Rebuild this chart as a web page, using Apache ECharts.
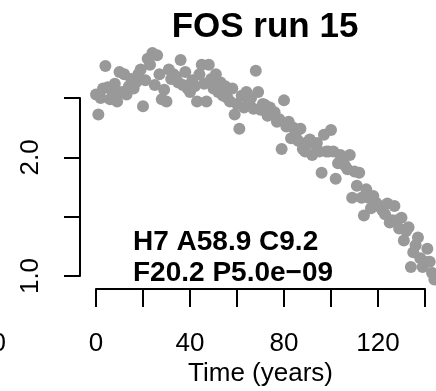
<!DOCTYPE html>
<html>
<head>
<meta charset="utf-8">
<script src="https://cdn.jsdelivr.net/npm/echarts@6/dist/echarts.min.js"></script>
<style>
html,body{margin:0;padding:0;background:#fff;}
#chart{width:436px;height:391px;}
</style>
</head>
<body>
<div id="chart"></div>
<script>
// Data (one point per year)
var values = [
  2.53, 2.36, 2.50, 2.58, 2.77, 2.59, 2.49, 2.55, 2.62, 2.47,
  2.72, 2.55, 2.70, 2.53, 2.60, 2.66, 2.58, 2.63, 2.70, 2.74,
  2.43, 2.65, 2.83, 2.78, 2.88, 2.61, 2.86, 2.70, 2.49, 2.57,
  2.47, 2.74, 2.66, 2.70, 2.68, 2.63, 2.82, 2.61, 2.72, 2.58,
  2.55, 2.65, 2.60, 2.47, 2.70, 2.78, 2.62, 2.47, 2.78, 2.66,
  2.58, 2.70, 2.55, 2.63, 2.52, 2.60, 2.50, 2.47, 2.58, 2.36,
  2.45, 2.24, 2.52, 2.42, 2.55, 2.46, 2.50, 2.41, 2.73, 2.55,
  2.40, 2.45, 2.44, 2.35, 2.42, 2.36, 2.38, 2.30, 2.32, 2.07,
  2.48, 2.26, 2.30, 2.16, 2.25, 2.20, 2.14, 2.24, 2.07, 2.05,
  2.13, 2.15, 2.02, 2.11, 2.12, 2.05, 1.87, 2.19, 2.05, 2.05,
  2.23, 2.05, 1.82, 1.95, 2.02, 1.98, 1.93, 1.90, 2.02, 1.66,
  1.88, 1.76, 1.87, 1.66, 1.51, 1.73, 1.66, 1.57, 1.675, 1.62,
  1.60, 1.58, 1.55, 1.52, 1.61, 1.45, 1.47, 1.59, 1.47, 1.40,
  1.49, 1.30, 1.38, 1.41, 1.075, 1.20, 1.26, 1.325, 1.15, 1.075,
  1.12, 1.23, 1.12, 1.025, 0.97
];
var xTicks = [0, 40, 80, 120];
var yTicks = [1.0, 2.0];
var titleText = 'FOS run 15';
var annotLines = ['H7 A58.9 C9.2', 'F20.2 P5.0e\u221209'];
var xName = 'Time (years)';

var pts = values.map(function (v, i) { return [i, v]; });
var FONT = '"Liberation Sans", Arial, Helvetica, sans-serif';

var chart = echarts.init(document.getElementById('chart'), null, {renderer: 'canvas'});
chart.setOption({
  animation: false,
  backgroundColor: '#ffffff',
  grid: {left: 96, right: 11, top: 98, bottom: 115, containLabel: false},
  xAxis: {
    type: 'value', min: 0, max: 140, interval: 20, offset: 13,
    axisLine: {show: true, onZero: false, lineStyle: {color: '#000', width: 2}},
    axisTick: {show: true, length: 18, inside: false, lineStyle: {color: '#000', width: 2}},
    splitLine: {show: false},
    axisLabel: {
      show: true, margin: 42, fontSize: 26, color: '#000', fontFamily: FONT,
      showMinLabel: true, showMaxLabel: true,
      formatter: function (v) { return xTicks.indexOf(v) >= 0 ? String(v) : ''; }
    },
    name: xName, nameLocation: 'middle', nameGap: 72,
    nameTextStyle: {fontSize: 26, color: '#000', fontFamily: FONT}
  },
  yAxis: {
    type: 'value', min: 1.0, max: 2.5, interval: 0.5, offset: 16,
    axisLine: {show: true, onZero: false, lineStyle: {color: '#000', width: 2}},
    axisTick: {show: true, length: 16, inside: false, lineStyle: {color: '#000', width: 2}},
    splitLine: {show: false},
    axisLabel: {
      show: true, rotate: 90, margin: 36, fontSize: 26, color: '#000', fontFamily: FONT,
      align: 'center', verticalAlign: 'bottom',
      formatter: function (v) {
        for (var i = 0; i < yTicks.length; i++) { if (Math.abs(yTicks[i] - v) < 1e-9) return yTicks[i].toFixed(1); }
        return '';
      }
    }
  },
  series: [{
    type: 'scatter', data: pts, symbol: 'circle', symbolSize: 12, clip: false,
    itemStyle: {color: '#999999', opacity: 1}, silent: true
  }],
  graphic: [
    {type: 'text', x: 265, y: 10, style: {text: titleText, fontSize: 35, fontWeight: 'bold', fill: '#000', fontFamily: FONT, align: 'center', verticalAlign: 'top'}, z: 10},
    {type: 'text', x: 133, y: 256, style: {text: annotLines[0], fontSize: 28, fontWeight: 'bold', fill: '#000', fontFamily: FONT, verticalAlign: 'bottom'}, z: 10},
    {type: 'text', x: 133, y: 287, style: {text: annotLines[1], fontSize: 28, fontWeight: 'bold', fill: '#000', fontFamily: FONT, verticalAlign: 'bottom'}, z: 10},
    {type: 'text', x: 6, y: 344, style: {text: '0', fontSize: 26, fill: '#000', fontFamily: FONT, align: 'right', verticalAlign: 'middle'}, z: 10}
  ]
});
</script>
</body>
</html>
